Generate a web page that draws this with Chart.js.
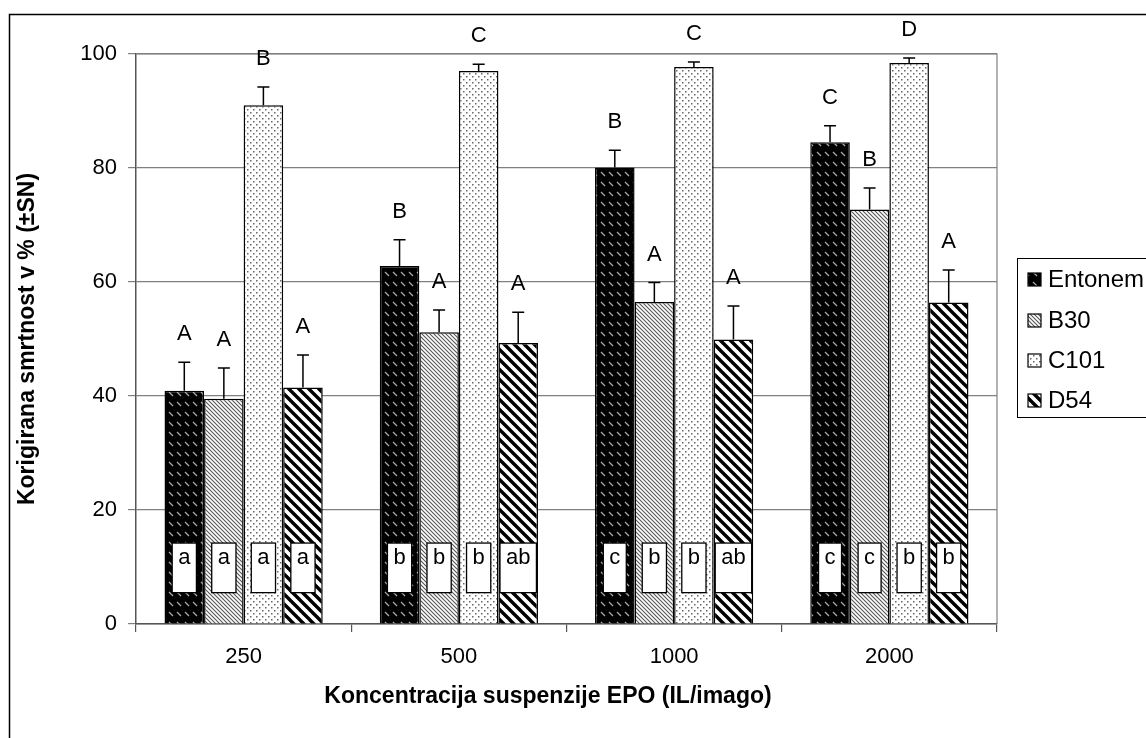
<!DOCTYPE html>
<html lang="sl">
<head>
    <meta charset="UTF-8">
    <title>Korigirana smrtnost</title>
    <script src="https://cdn.jsdelivr.net/npm/chart.js"></script>
    <style>
        body { margin: 0; background: #fff; }
        canvas { display: block; }
    </style>
</head>
<body>
    <canvas id="chart" width="1146" height="738" style="width:1146px;height:738px"></canvas>
    <script>
        const categories = ['250', '500', '1000', '2000'];
        const seriesNames = ['Entonem', 'B30', 'C101', 'D54'];

        const entonem = [40.9, 62.8, 80.1, 84.5];
        const b30 = [39.5, 51.2, 56.5, 72.7];
        const c101 = [91.0, 97.0, 97.7, 98.4];
        const d54 = [41.5, 49.3, 49.9, 56.4];

        const entonemErr = [5.0, 4.6, 3.0, 2.9];
        const b30Err = [5.4, 3.9, 3.4, 3.8];
        const c101Err = [3.2, 1.2, 0.9, 0.9];
        const d54Err = [5.7, 5.4, 5.9, 5.7];

        // letters above error bars (between treatments)
        const entonemUpper = ['A', 'B', 'B', 'C'];
        const b30Upper = ['A', 'A', 'A', 'B'];
        const c101Upper = ['B', 'C', 'C', 'D'];
        const d54Upper = ['A', 'A', 'A', 'A'];

        // letters in boxes (between concentrations)
        const entonemLower = ['a', 'b', 'c', 'c'];
        const b30Lower = ['a', 'b', 'b', 'c'];
        const c101Lower = ['a', 'b', 'b', 'b'];
        const d54Lower = ['a', 'ab', 'ab', 'b'];

        const FONT = '"Liberation Sans", Arial, sans-serif';

        function makePattern(w, h, draw) {
            const c = document.createElement('canvas');
            c.width = w;
            c.height = h;
            const g = c.getContext('2d');
            draw(g, w, h);
            return c;
        }

        const tiles = [
            // black with light diagonal dashes
            makePattern(8, 10, (g, w, h) => {
                g.fillStyle = '#000';
                g.fillRect(0, 0, w, h);
                g.strokeStyle = '#a8a8a8';
                g.lineWidth = 1.3;
                g.beginPath();
                g.moveTo(1, 2);
                g.lineTo(5, 6);
                g.stroke();
            }),
            // fine diagonal lines
            makePattern(4, 4, (g, w, h) => {
                g.fillStyle = '#fff';
                g.fillRect(0, 0, w, h);
                g.strokeStyle = '#555';
                g.lineWidth = 1.1;
                g.beginPath();
                g.moveTo(-1, -1); g.lineTo(5, 5);
                g.moveTo(-1, 3); g.lineTo(1, 5);
                g.moveTo(3, -1); g.lineTo(5, 1);
                g.stroke();
            }),
            // dots
            makePattern(6, 6, (g, w, h) => {
                g.fillStyle = '#fff';
                g.fillRect(0, 0, w, h);
                g.fillStyle = '#666';
                g.fillRect(1, 1, 1.5, 1.5);
                g.fillRect(4, 4, 1.5, 1.5);
            }),
            // wide diagonal stripes
            makePattern(10, 10, (g, w, h) => {
                g.fillStyle = '#fff';
                g.fillRect(0, 0, w, h);
                g.strokeStyle = '#000';
                g.lineWidth = 3.4;
                g.beginPath();
                g.moveTo(-2, -2); g.lineTo(12, 12);
                g.moveTo(-2, 8); g.lineTo(2, 12);
                g.moveTo(8, -2); g.lineTo(12, 2);
                g.stroke();
            })
        ];

        const ctx = document.getElementById('chart').getContext('2d');
        const patterns = tiles.map(t => ctx.createPattern(t, 'repeat'));

        const values = [entonem, b30, c101, d54];
        const errors = [entonemErr, b30Err, c101Err, d54Err];
        const upper = [entonemUpper, b30Upper, c101Upper, d54Upper];
        const lower = [entonemLower, b30Lower, c101Lower, d54Lower];

        const decor = {
            id: 'decor',
            afterDatasetsDraw(chart) {
                const c = chart.ctx;
                const y = chart.scales.y;
                const area = chart.chartArea;

                // plot area border (top / right)
                c.save();
                c.strokeStyle = '#808080';
                c.lineWidth = 1.2;
                c.beginPath();
                c.moveTo(area.left, area.top);
                c.lineTo(area.right, area.top);
                c.lineTo(area.right, area.bottom);
                c.stroke();

                values.forEach((vals, di) => {
                    const meta = chart.getDatasetMeta(di);
                    meta.data.forEach((bar, i) => {
                        const top = y.getPixelForValue(vals[i] + errors[di][i]);
                        // error bar
                        c.strokeStyle = '#000';
                        c.lineWidth = 1.5;
                        c.beginPath();
                        c.moveTo(bar.x, bar.y);
                        c.lineTo(bar.x, top);
                        c.moveTo(bar.x - 6, top);
                        c.lineTo(bar.x + 6, top);
                        c.stroke();

                        // upper letter
                        c.fillStyle = '#000';
                        c.font = '22px ' + FONT;
                        c.textAlign = 'center';
                        c.textBaseline = 'alphabetic';
                        c.fillText(upper[di][i], bar.x, top - 22);

                        // lower letter box
                        const txt = lower[di][i];
                        const tw = c.measureText(txt).width;
                        const bw = tw + 12;
                        const bTop = y.getPixelForValue(14.2);
                        const bBot = y.getPixelForValue(5.5);
                        c.fillStyle = '#fff';
                        c.fillRect(bar.x - bw / 2, bTop, bw, bBot - bTop);
                        c.strokeStyle = '#000';
                        c.lineWidth = 1.3;
                        c.strokeRect(bar.x - bw / 2, bTop, bw, bBot - bTop);
                        c.fillStyle = '#000';
                        c.textBaseline = 'top';
                        c.fillText(txt, bar.x, bTop + 4);
                    });
                });
                c.restore();
            },
            afterDraw(chart) {
                const c = chart.ctx;
                c.save();
                // outer frame
                c.strokeStyle = '#000';
                c.lineWidth = 1.5;
                c.strokeRect(9.5, 14.5, 1200, 800);

                // legend
                c.lineWidth = 1;
                c.strokeRect(1017.5, 258.5, 200, 159);
                const rowY = [279, 320, 360, 400];
                c.font = '24px ' + FONT;
                c.textAlign = 'left';
                c.textBaseline = 'middle';
                seriesNames.forEach((name, i) => {
                    c.fillStyle = patterns[i];
                    c.fillRect(1028, rowY[i] - 6, 13, 13);
                    c.strokeStyle = '#000';
                    c.lineWidth = 1.2;
                    c.strokeRect(1028, rowY[i] - 6, 13, 13);
                    c.fillStyle = '#000';
                    c.fillText(name, 1048, rowY[i] + 1);
                });

                // axis titles
                c.font = 'bold 23px ' + FONT;
                c.textAlign = 'center';
                c.textBaseline = 'middle';
                const area = chart.chartArea;
                c.fillText('Koncentracija suspenzije EPO (IL/imago)', 548, 697);
                c.translate(28, (area.top + area.bottom) / 2);
                c.rotate(-Math.PI / 2);
                c.fillText('Korigirana smrtnost v % (±SN)', 0, 0);
                c.restore();
            }
        };

        new Chart(ctx, {
            type: 'bar',
            data: {
                labels: categories,
                datasets: seriesNames.map((name, i) => ({
                    label: name,
                    data: values[i],
                    backgroundColor: patterns[i],
                    borderColor: '#000',
                    borderWidth: 1.5,
                    categoryPercentage: 0.735,
                    barPercentage: 1
                }))
            },
            options: {
                responsive: false,
                animation: false,
                layout: { padding: { top: 54, right: 149, left: 0, bottom: 0 } },
                plugins: {
                    legend: { display: false },
                    tooltip: { enabled: false }
                },
                scales: {
                    x: {
                        offset: true,
                        grid: { offset: true, drawOnChartArea: false, drawTicks: true, tickLength: 8, color: '#555', lineWidth: 1.2 },
                        border: { color: '#555', width: 1.5 },
                        ticks: { font: { family: FONT, size: 22 }, color: '#000', padding: 12 },
                        afterFit: s => { s.height = 114; }
                    },
                    y: {
                        min: 0,
                        max: 100,
                        ticks: { stepSize: 20, font: { family: FONT, size: 22 }, color: '#000', padding: 11 },
                        grid: { color: '#808080', lineWidth: 1.2, tickLength: 8 },
                        border: { color: '#555', width: 1.5 },
                        afterFit: s => { s.width = 136; }
                    }
                }
            },
            plugins: [decor]
        });
    </script>
</body>
</html>
